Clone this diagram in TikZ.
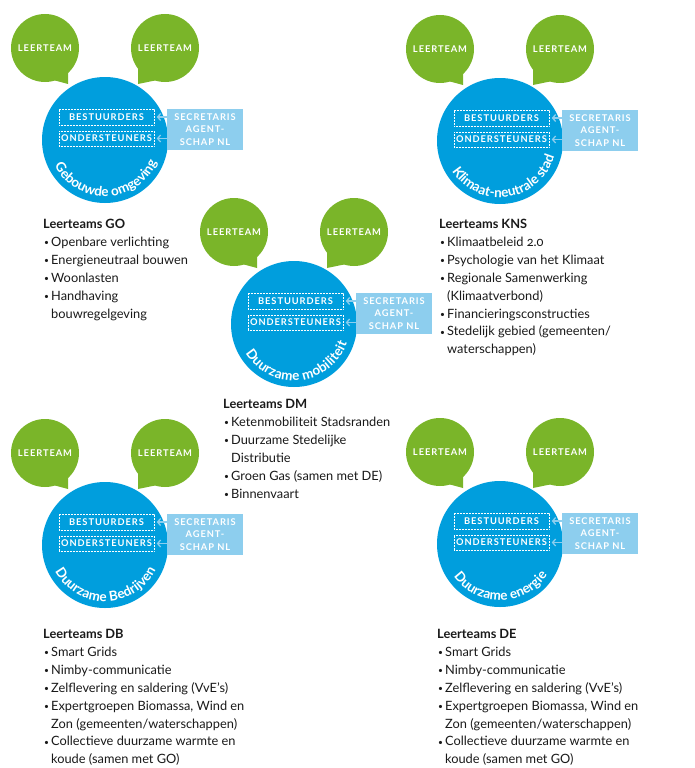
\documentclass[tikz,border=0pt]{standalone}
\usepackage{fontspec}
\setmainfont{Lato}[Numbers=OldStyle]
\newfontfamily\capfont{Lato}[LetterSpace=10]
\usetikzlibrary{decorations.text,arrows.meta}
\definecolor{lgreen}{RGB}{122,181,41}
\definecolor{cblue}{RGB}{0,158,221}
\definecolor{lblue}{RGB}{141,206,238}
\definecolor{txt}{RGB}{25,25,25}
\newcommand\curvefont{\bfseries\fontsize{13.5}{14}\selectfont}
\newcommand\bul{\makebox[8pt][l]{\hspace{0.8pt}\raisebox{0.9pt}{\fontsize{8.5}{8.5}\selectfont\textbullet}}}
\newcommand\ind{\hspace*{8pt}}
\tikzset{
  x=1pt, y=1pt,
  bubble/.style={circle, fill=lgreen, minimum size=68pt, inner sep=0pt, text=white,
    font=\capfont\bfseries\fontsize{9.3}{11}\selectfont},
  bigc/.style={circle, fill=cblue, minimum size=126pt, inner sep=0pt},
  dbox/.style={draw=white, line width=0.5pt, dash pattern=on 0.7pt off 0.8pt,
    minimum width=95pt, minimum height=16pt, inner sep=0pt, text=white,
    font=\capfont\bfseries\fontsize{9.3}{11}\selectfont},
  secbox/.style={fill=lblue, minimum width=76pt, minimum height=41pt, inner sep=0pt,
    align=center, text=white, font=\capfont\bfseries\fontsize{9.3}{12.5}\selectfont},
  arr/.style={lblue, line width=1.3pt, -{Straight Barb[length=3pt,width=7pt]}, shorten >=2.5pt},
  lst/.style={anchor=base west, inner sep=0pt, text=txt, font=\fontsize{12.8}{17.9}\selectfont},
}
% #1 name, #2 x, #3 y (image coords), #4 label, #5 start angle, #6 end angle
\newcommand\cluster[6]{%
\begin{scope}[shift={(#2,-#3)}]
  \fill[lgreen] (-37,56) -- (-37,75) -- (-55,70) -- (-50,59.5) -- cycle;
  \fill[lgreen] (33,56) -- (50,59.5) -- (52,70) -- (33,75) -- cycle;
  \node[bubble] (#1l) at (-60,92) {LEERTEAM};
  \node[bubble] (#1r) at (60,92) {LEERTEAM};
  \node[bigc] (#1c) at (0,0) {};
  \node[dbox] (#1b) at (1.5,23) {BESTUURDERS};
  \node[dbox, minimum height=15pt] (#1o) at (1.5,1.5) {ONDERSTEUNERS};
  \node[secbox] (#1s) at (100,10.5) {SECRETARIS\\AGENT-\\SCHAP NL};
  \draw[arr] (#1s.west |- #1b) -- (#1b.east);
  \draw[arr] (#1s.west |- #1o) -- (#1o.east);
  \path[decorate, decoration={text along path, text align=fit to path, text color=white,
    text={|\curvefont|#4}}] (0,0) ++(#5:56.5) arc[start angle=#5, end angle=#6, radius=56.5];
\end{scope}}
\begin{document}
\begin{tikzpicture}
\useasboundingbox (0,0) rectangle (694,-768);
\cluster{go}{105}{140}{Gebouwde omgeving}{207}{334}
\cluster{kns}{500}{141}{Klimaat-neutrale stad}{212}{344}
\cluster{dm}{294}{324}{Duurzame mobiliteit}{211}{340}
\cluster{db}{105}{545}{Duurzame Bedrijven}{208}{334}
\cluster{de}{500}{544}{Duurzame energie}{215}{326}

\node[lst] (goL) at (43,-228.5) {\begin{tabular}[t]{@{}l@{}}\textbf{Leerteams GO}\\
\bul Openbare verlichting\\
\bul Energieneutraal bouwen\\
\bul Woonlasten\\
\bul Handhaving\\
\ind bouwregelgeving\end{tabular}};

\node[lst] (knsL) at (439,-228.5) {\begin{tabular}[t]{@{}l@{}}\textbf{Leerteams KNS}\\
\bul Klimaatbeleid 2.0\\
\bul Psychologie van het Klimaat\\
\bul Regionale Samenwerking\\
\ind (Klimaatverbond)\\
\bul Financieringsconstructies\\
\bul Stedelijk gebied (gemeenten/\\
\ind waterschappen)\end{tabular}};

\node[lst] (dmL) at (223,-408.5) {\begin{tabular}[t]{@{}l@{}}\textbf{Leerteams DM}\\
\bul Ketenmobiliteit Stadsranden\\
\bul Duurzame Stedelijke\\
\ind Distributie\\
\bul Groen Gas (samen met DE)\\
\bul Binnenvaart\end{tabular}};

\node[lst] (dbL) at (43,-638.5) {\begin{tabular}[t]{@{}l@{}}\textbf{Leerteams DB}\\
\bul Smart Grids\\
\bul Nimby-communicatie\\
\bul Zelflevering en saldering (VvE’s)\\
\bul Expertgroepen Biomassa, Wind en\\
\ind Zon (gemeenten/waterschappen)\\
\bul Collectieve duurzame warmte en\\
\ind koude (samen met GO)\end{tabular}};

\node[lst] (deL) at (437,-638.5) {\begin{tabular}[t]{@{}l@{}}\textbf{Leerteams DE}\\
\bul Smart Grids\\
\bul Nimby-communicatie\\
\bul Zelflevering en saldering (VvE’s)\\
\bul Expertgroepen Biomassa, Wind en\\
\ind Zon (gemeenten/waterschappen)\\
\bul Collectieve duurzame warmte en\\
\ind koude (samen met GO)\end{tabular}};
\end{tikzpicture}
\end{document}
